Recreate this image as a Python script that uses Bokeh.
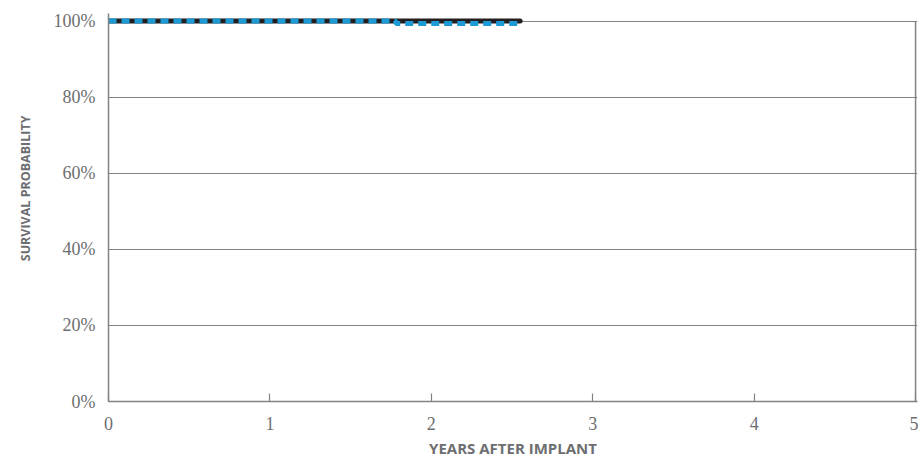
from bokeh.plotting import figure
from bokeh.models import Range1d, FixedTicker, Title
from bokeh.embed import file_html
from bokeh.resources import INLINE

# Data (Kaplan-Meier style step curves)
black_years = [0.0, 2.55]
black_surv = [100.0, 100.0]
blue_years = [0.0, 1.78, 2.55]
blue_surv = [100.0, 99.4, 99.4]

x_ticks = [0, 1, 2, 3, 4, 5]
y_ticks = [0, 20, 40, 60, 80, 100]
y_tick_labels = ["0%", "20%", "40%", "60%", "80%", "100%"]

GREY = "#6d6e71"
LINE_GREY = "#808285"

p = figure(width=918, height=460, output_backend="svg", toolbar_location=None,
           x_range=Range1d(0, 5.012), y_range=Range1d(0, 102),
           min_border_left=108, min_border_right=1, min_border_top=13, min_border_bottom=59)
p.outline_line_color = None
p.background_fill_color = "white"
p.border_fill_color = "white"

# grid
p.xgrid.visible = False
p.ygrid.ticker = FixedTicker(ticks=y_ticks[1:])
p.ygrid.grid_line_color = LINE_GREY
p.ygrid.grid_line_width = 1.2

# x axis
p.xaxis.ticker = FixedTicker(ticks=x_ticks)
p.xaxis.axis_line_color = LINE_GREY
p.xaxis.axis_line_width = 1.5
p.xaxis.major_tick_in = 8
p.xaxis.major_tick_out = 0
p.xaxis.major_tick_line_color = LINE_GREY
p.xaxis.major_tick_line_width = 1.2
p.xaxis.minor_tick_line_color = None
p.xaxis.major_label_standoff = 15
p.xaxis.major_label_text_font = "Liberation Serif"
p.xaxis.major_label_text_font_size = "18px"
p.xaxis.major_label_text_color = GREY
p.xaxis.axis_label = "YEARS AFTER IMPLANT"
p.xaxis.axis_label_text_font = "Open Sans"
p.xaxis.axis_label_text_font_style = "bold"
p.xaxis.axis_label_text_font_size = "15px"
p.xaxis.axis_label_text_color = GREY
p.xaxis.axis_label_text_line_height = 0.8
p.xaxis.axis_label_standoff = 5

# y axis
p.yaxis.ticker = FixedTicker(ticks=y_ticks)
p.yaxis.major_label_overrides = {t: s for t, s in zip(y_ticks, y_tick_labels)}
p.yaxis.axis_line_color = LINE_GREY
p.yaxis.axis_line_width = 1.5
p.yaxis.major_tick_line_color = None
p.yaxis.major_tick_out = 0
p.yaxis.major_tick_in = 0
p.yaxis.minor_tick_line_color = None
p.yaxis.major_label_standoff = 13
p.yaxis.major_label_text_font = "Liberation Serif"
p.yaxis.major_label_text_font_size = "18px"
p.yaxis.major_label_text_color = GREY

# right border at last x tick, from 0 to top tick
p.segment(x0=[x_ticks[-1]], y0=[y_ticks[0]], x1=[x_ticks[-1]], y1=[y_ticks[-1]],
          line_color=LINE_GREY, line_width=1.5)

# curves
p.step(black_years, black_surv, mode="after", line_color="#231f20", line_width=5,
       line_cap="round")
p.step(blue_years, blue_surv, mode="after", line_color="#1b9ad6", line_width=5,
       line_dash="8 5")

ytitle = Title(text="SURVIVAL PROBABILITY", align="right", offset=102, standoff=30,
               vertical_align="top",
               text_font="Open Sans", text_font_style="bold",
               text_font_size="12.5px", text_color=GREY)
p.add_layout(ytitle, "left")

open("out.html", "w").write(file_html(p, INLINE))
